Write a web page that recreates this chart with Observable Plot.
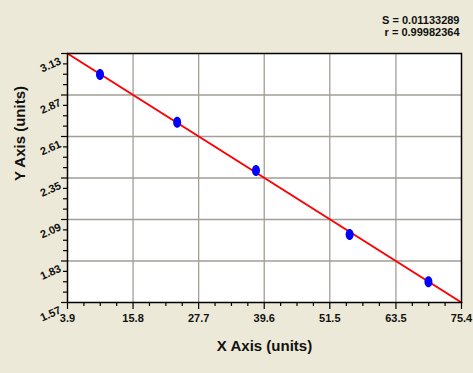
<!DOCTYPE html>
<html>
<head>
<meta charset="utf-8">
<script src="https://cdn.jsdelivr.net/npm/d3@7"></script>
<script src="https://cdn.jsdelivr.net/npm/@observablehq/plot@0.6"></script>
<style>
  html, body { margin: 0; padding: 0; background: #ece9d8; }
  #chart { width: 473px; height: 373px; }
</style>
</head>
<body>
<div id="chart"></div>
<script>
// Data points (x, y)
const pointX = [9.8, 23.8, 38.1, 55.1, 69.4];
const pointY = [2.998, 2.70, 2.397, 1.996, 1.70];
// Fitted line endpoints
const fitX = [3.9, 75.4];
const fitY = [3.13, 1.57];
// Tick labels
const xTicks = [3.9, 15.8, 27.7, 39.6, 51.5, 63.5, 75.4];
const yTicks = [1.57, 1.83, 2.09, 2.35, 2.61, 2.87, 3.13];
const statS = "S = 0.01133289";
const statR = "r = 0.99982364";
const xLabel = "X Axis (units)";
const yLabel = "Y Axis (units)";

const points = pointX.map((x, i) => ({x, y: pointY[i]}));
const fit = fitX.map((x, i) => ({x, y: fitY[i]}));

function minors(ticks) {
  const out = [];
  for (let i = 0; i < ticks.length - 1; i++) {
    const a = ticks[i], b = ticks[i + 1];
    for (let k = 1; k < 4; k++) out.push(a + (b - a) * k / 4);
  }
  return out;
}
const xMinor = minors(xTicks);
const yMinor = minors(yTicks);

const ellipse = {
  draw(ctx) {
    const rx = 4, ry = 5.5, k = 0.5523;
    ctx.moveTo(rx, 0);
    ctx.bezierCurveTo(rx, ry * k, rx * k, ry, 0, ry);
    ctx.bezierCurveTo(-rx * k, ry, -rx, ry * k, -rx, 0);
    ctx.bezierCurveTo(-rx, -ry * k, -rx * k, -ry, 0, -ry);
    ctx.bezierCurveTo(rx * k, -ry, rx, -ry * k, rx, 0);
    ctx.closePath();
  }
};

const tickFont = {fontFamily: "Liberation Sans", fontWeight: "bold", fontSize: 11, fill: "#111"};
const titleFont = {fontFamily: "Liberation Sans", fontWeight: "bold", fontSize: 15, fill: "#111"};

const chart = Plot.plot({
  width: 473,
  height: 373,
  marginLeft: 67,
  marginRight: 12,
  marginTop: 53,
  marginBottom: 71,
  style: {background: "transparent", overflow: "visible"},
  x: {domain: [3.9, 75.4]},
  y: {domain: [1.57, 3.13]},
  marks: [
    Plot.frame({fill: "white"}),
    Plot.gridX(xTicks.slice(1, -1), {stroke: "#a19e96", strokeOpacity: 1, strokeWidth: 1.3}),
    Plot.gridY(yTicks.slice(1, -1), {stroke: "#a19e96", strokeOpacity: 1, strokeWidth: 1.3}),
    Plot.line(fit, {x: "x", y: "y", stroke: "#ff0000", strokeWidth: 2}),
    Plot.dot(points, {x: "x", y: "y", symbol: ellipse, r: 5, fill: "#0000ff", stroke: "none"}),
    Plot.frame({stroke: "black", strokeWidth: 1.5}),
    Plot.axisX(xMinor, {anchor: "bottom", tickSize: 4, tickFormat: () => "", label: null, strokeWidth: 1.2}),
    Plot.axisX(xTicks, {anchor: "bottom", tickSize: 7, tickFormat: () => "", label: null, strokeWidth: 1.2}),
    Plot.axisY(yMinor, {anchor: "left", tickSize: 4, tickFormat: () => "", label: null, strokeWidth: 1.2}),
    Plot.axisY(yTicks, {anchor: "left", tickSize: 6, tickFormat: () => "", label: null, strokeWidth: 1.2}),
    Plot.text(xTicks, {x: d => d, text: d => String(d), frameAnchor: "bottom", dy: 19, ...tickFont}),
    Plot.text(yTicks, {y: d => d, text: d => d.toFixed(2), frameAnchor: "left", textAnchor: "end", rotate: -24, dx: -7, dy: 7, ...tickFont}),
    Plot.text([xLabel], {text: d => d, frameAnchor: "bottom", dy: 48, ...titleFont}),
    Plot.text([yLabel], {text: d => d, frameAnchor: "left", rotate: -90, dx: -47, dy: 3, ...titleFont}),
    Plot.text([statS], {text: d => d, frameAnchor: "top-right", textAnchor: "end", dx: -2, dy: -37, ...tickFont}),
    Plot.text([statR], {text: d => d, frameAnchor: "top-right", textAnchor: "end", dx: -2, dy: -25, ...tickFont})
  ]
});
document.getElementById("chart").appendChild(chart);
</script>
</body>
</html>
